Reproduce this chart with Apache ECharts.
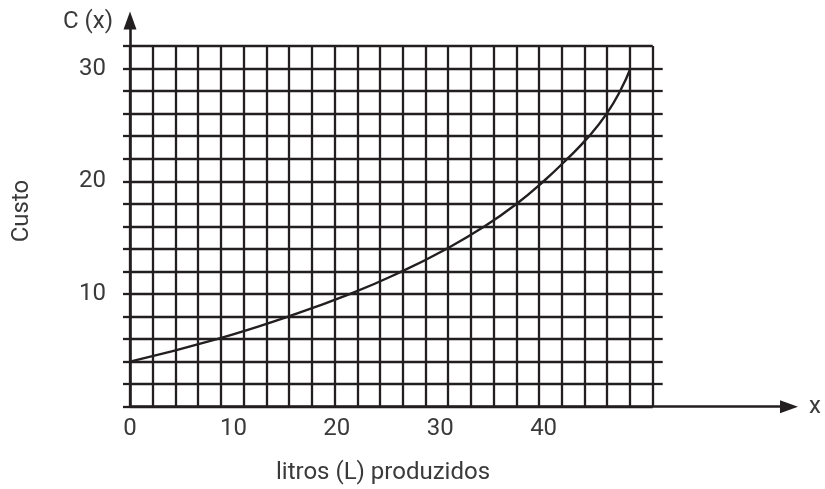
<!DOCTYPE html>
<html>
<head>
<meta charset="utf-8">
<script src="https://cdn.jsdelivr.net/npm/echarts@6/dist/echarts.min.js"></script>
<style>html,body{margin:0;padding:0;background:#fff}#c{width:825px;height:489px}</style>
</head>
<body>
<div id="c"></div>
<script>
// Data
const litros = [0, 8.4, 15.3, 21.3, 26.3, 30.6, 34.3, 37.4, 40.0, 42.3, 44.4, 46.1, 47.4, 48.4];
const custo  = [4, 6, 8, 10, 12, 14, 16, 18, 20, 22, 24, 26, 28, 30];
const xTickLabels = [0, 10, 20, 30, 40];
const yTickLabels = [10, 20, 30];
const rightTicks = [2,4,6,8,10,12,14,16,18,20,22,24,26,28,30];

const INK = '#231f20';
const TXT = '#3a3a3a';
const FONT = 'Roboto';
const FW = 'normal';

const chart = echarts.init(document.getElementById('c'), null, {renderer: 'canvas'});
chart.setOption({
  animation: false,
  backgroundColor: '#fff',
  grid: [
    {left: 130, top: 46, width: 522.7, height: 360.7},
    {left: 130, top: 20.6, width: 659, height: 386.1}
  ],
  xAxis: [
    {gridIndex: 0, type: 'value', min: 0, max: 23, interval: 1,
     axisLine: {show: false}, axisTick: {show: false}, axisLabel: {show: false},
     splitLine: {show: true, lineStyle: {color: INK, width: 2.3}}},
    {gridIndex: 1, type: 'value', min: 0, max: 63.73, interval: 10,
     name: 'x', nameLocation: 'end', nameGap: 20,
     nameTextStyle: {fontFamily: FONT, fontWeight: FW, fontSize: 24, color: TXT, verticalAlign: 'middle', padding: [0,0,6,0]},
     axisLine: {show: true, symbol: ['none', 'triangle'], symbolSize: [13, 18], lineStyle: {color: INK, width: 2.6}},
     axisTick: {show: false}, splitLine: {show: false},
     axisLabel: {show: true, margin: 10, fontFamily: FONT, fontWeight: FW, fontSize: 24, color: TXT,
       formatter: v => xTickLabels.indexOf(v) >= 0 ? String(v) : ''}}
  ],
  yAxis: [
    {gridIndex: 0, type: 'value', min: 0, max: 32, interval: 2, position: 'left',
     axisLine: {show: false}, axisLabel: {show: false},
     axisTick: {show: true, length: 7, lineStyle: {color: INK, width: 2.3}},
     splitLine: {show: true, lineStyle: {color: INK, width: 2.3}}},
    {gridIndex: 0, type: 'value', min: 0, max: 32, interval: 2, position: 'right',
     axisLine: {show: false}, axisLabel: {show: false}, splitLine: {show: false},
     axisTick: {show: true, length: 10, customValues: rightTicks, lineStyle: {color: INK, width: 2.3}}},
    {gridIndex: 1, type: 'value', min: 0, max: 34.25, interval: 10, position: 'left',
     axisLine: {show: true, onZero: false, symbol: ['none', 'triangle'], symbolSize: [13, 18], lineStyle: {color: INK, width: 2.6}},
     axisTick: {show: false}, splitLine: {show: false},
     axisLabel: {show: true, margin: 24, fontFamily: FONT, fontWeight: FW, fontSize: 24, color: TXT,
       formatter: v => yTickLabels.indexOf(v) >= 0 ? String(v) : ''}}
  ],
  series: [{
    type: 'line', xAxisIndex: 1, yAxisIndex: 2,
    data: litros.map((x, i) => [x, custo[i]]),
    smooth: 0.5, showSymbol: false, z: 5,
    lineStyle: {color: INK, width: 2.4}
  }],
  graphic: [
    {type: 'text', x: 113, y: 22, style: {text: 'C (x)', fontFamily: FONT, fontWeight: FW, fontSize: 24, fill: TXT, textAlign: 'right', textVerticalAlign: 'middle'}},
    {type: 'text', x: 22, y: 211, rotation: Math.PI / 2, style: {text: 'Custo', fontFamily: FONT, fontWeight: FW, fontSize: 24, fill: TXT, textAlign: 'center', textVerticalAlign: 'middle'}},
    {type: 'text', x: 383, y: 473, style: {text: 'litros (L) produzidos', fontFamily: FONT, fontWeight: FW, fontSize: 24, fill: TXT, textAlign: 'center', textVerticalAlign: 'middle'}}
  ]
});
</script>
</body>
</html>
